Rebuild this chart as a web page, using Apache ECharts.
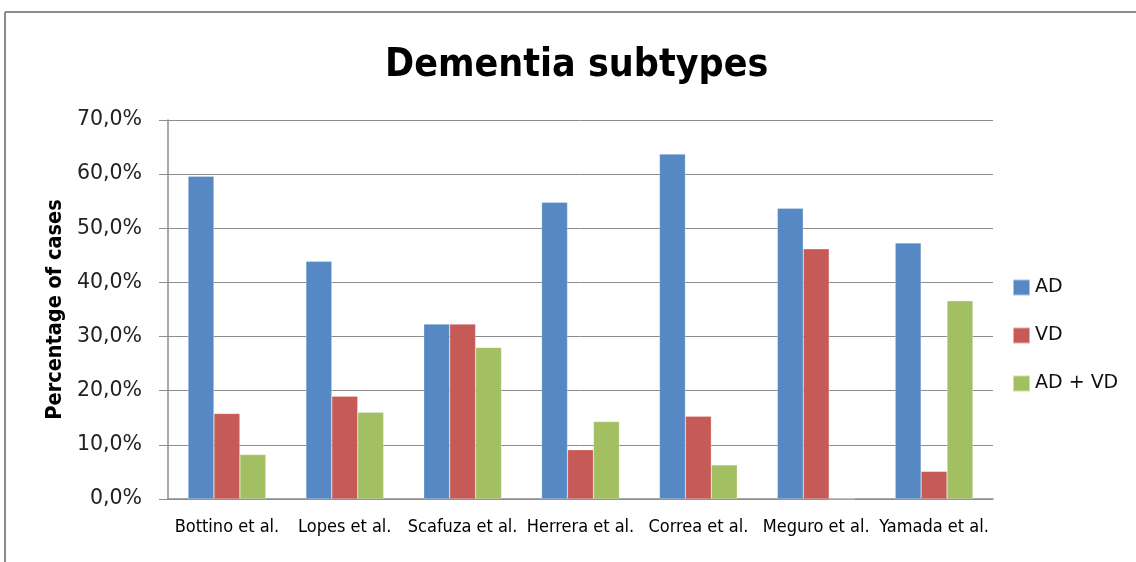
<!DOCTYPE html>
<html><head><meta charset="utf-8">
<script src="https://cdn.jsdelivr.net/npm/echarts@6/dist/echarts.min.js"></script>
<style>html,body{margin:0;padding:0;background:#fff}#c{width:1136px;height:562px}</style>
</head><body><div id="c"></div>
<script>
const categories = ['Bottino et al.', 'Lopes et al.', 'Scafuza et al.', 'Herrera et al.', 'Correa et al.', 'Meguro et al.', 'Yamada et al.'];
const seriesNames = ['AD', 'VD', 'AD + VD'];
const adValues = [59.6, 43.9, 32.3, 54.8, 63.7, 53.7, 47.3];
const vdValues = [15.8, 19.0, 32.3, 9.1, 15.3, 46.2, 5.1];
const advdValues = [8.2, 16.0, 28.0, 14.3, 6.3, 0, 36.6];
const colors = ['#5689C4', '#C55A57', '#A2BF62'];

const narrow = "'Liberation Sans Narrow', 'DejaVu Sans Condensed', 'Noto Sans', sans-serif";
const regular = "'DejaVu Sans', sans-serif";
const chart = echarts.init(document.getElementById('c'));
const mk = (name, data, i) => ({
  name, type: 'bar', data, barGap: '0%', barCategoryGap: '34%',
  itemStyle: { color: colors[i], borderColor: 'rgba(255,255,255,0.5)', borderWidth: 0.5 }
});
chart.setOption({
  animation: false,
  title: { text: 'Dementia subtypes', left: 380, top: 41,
    textStyle: { fontFamily: narrow, fontSize: 39, fontWeight: 'bold', color: '#000' } },
  legend: { orient: 'vertical', left: 1007, top: 273, itemGap: 29, itemWidth: 17, itemHeight: 16,
    icon: 'rect', textStyle: { fontFamily: regular, fontSize: 19, color: '#111' } },
  grid: { left: 168, right: 143, top: 120, bottom: 63, containLabel: false },
  xAxis: { type: 'category', data: categories,
    axisLine: { lineStyle: { color: '#8c8c8c', width: 1.5 } },
    axisTick: { show: false },
    axisLabel: { interval: 0, margin: 19, fontFamily: narrow, fontSize: 18, color: '#000' } },
  yAxis: { type: 'value', min: 0, max: 70, interval: 10,
    name: 'Percentage of cases', nameLocation: 'middle', nameGap: 101, nameRotate: 90,
    nameTextStyle: { fontFamily: narrow, fontSize: 21.5, fontWeight: 'bold', color: '#000' },
    axisLine: { show: true, lineStyle: { color: '#8c8c8c', width: 1.5 } },
    axisTick: { show: true, length: 9, lineStyle: { color: '#8c8c8c' } },
    splitLine: { lineStyle: { color: '#8c8c8c', width: 1 } },
    axisLabel: { margin: 26, fontFamily: regular, fontSize: 20.5, color: '#222',
      formatter: v => v.toFixed(1).replace('.', ',') + '%' } },
  graphic: [
    { type: 'line', shape: { x1: 5, y1: 12, x2: 1136, y2: 12 }, style: { stroke: '#8c8c8c', lineWidth: 2 } },
    { type: 'line', shape: { x1: 5, y1: 12, x2: 5, y2: 562 }, style: { stroke: '#8c8c8c', lineWidth: 2 } }
  ],
  series: [mk(seriesNames[0], adValues, 0), mk(seriesNames[1], vdValues, 1), mk(seriesNames[2], advdValues, 2)]
});
</script></body></html>
